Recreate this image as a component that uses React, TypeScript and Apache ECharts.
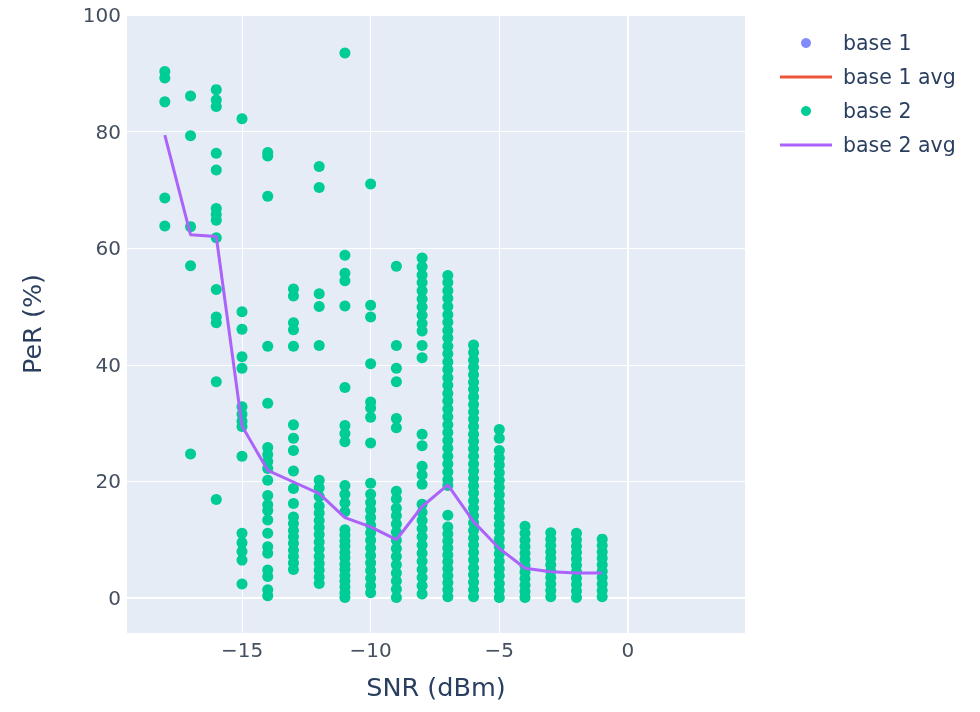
import React, { useEffect, useRef } from "react";
import * as echarts from "echarts";

// SNR columns (dBm)
const snrLevels = [-18, -17, -16, -15, -14, -13, -12, -11, -10, -9, -8, -7, -6, -5, -4, -3, -2, -1];

// base 2 PeR (%) readings per SNR column (same order as snrLevels)
const perSnrM18 = [90.3, 89.2, 85.1, 68.6, 63.8];
const perSnrM17 = [86.1, 79.3, 63.7, 57.0, 24.7];
const perSnrM16 = [87.2, 85.4, 84.3, 76.3, 73.4, 66.8, 65.8, 64.8, 61.8, 52.9, 48.2, 47.2, 37.1, 16.9];
const perSnrM15 = [82.2, 49.1, 46.1, 41.4, 39.4, 32.8, 31.5, 30.3, 29.4, 24.3, 11.1, 9.5, 8.0, 6.5, 2.4];
const perSnrM14 = [76.4, 75.8, 68.9, 43.2, 33.4, 25.8, 24.6, 23.4, 22.2, 20.2, 17.6, 16.0, 15.0, 13.4, 11.1, 8.8, 7.7, 4.8, 3.7, 1.4, 0.4];
const perSnrM13 = [53.0, 51.8, 47.2, 46.0, 43.2, 29.7, 27.4, 25.3, 21.8, 18.8, 16.2, 13.9, 12.8, 11.6, 10.5, 9.4, 8.2, 7.1, 6.0, 4.9];
const perSnrM12 = [74.0, 70.4, 52.2, 50.0, 43.3, 20.2, 18.9, 17.4, 15.8, 14.6, 13.3, 12.1, 10.9, 9.6, 8.4, 7.1, 5.9, 4.8, 3.6, 2.5];
const perSnrM11 = [93.5, 58.8, 55.7, 54.4, 50.1, 36.1, 29.6, 28.2, 26.8, 19.3, 17.8, 16.3, 14.8, 11.7, 10.8, 9.8, 8.9, 7.8, 6.9, 5.8, 4.9, 3.8, 2.9, 1.9, 0.9, 0.1];
const perSnrM10 = [71.0, 50.2, 48.2, 40.2, 33.6, 32.6, 31.0, 26.6, 19.7, 17.8, 16.4, 15.1, 13.8, 12.5, 11.2, 9.9, 8.6, 7.3, 6.0, 4.7, 3.4, 2.1, 0.9];
const perSnrM9 = [56.9, 43.3, 39.4, 37.1, 30.8, 29.2, 18.3, 17.0, 15.4, 14.1, 12.7, 11.3, 9.9, 8.5, 7.1, 5.7, 4.3, 2.9, 1.5, 0.1];
const perSnrM8 = [58.3, 56.8, 55.4, 54.1, 52.7, 51.3, 49.9, 48.5, 47.1, 45.8, 43.3, 41.2, 28.1, 26.1, 22.6, 21.1, 19.5, 16.1, 14.7, 13.3, 11.9, 10.5, 9.1, 7.7, 6.3, 4.9, 3.5, 2.1, 0.7];
const perSnrM7 = [55.3, 54.1, 52.7, 51.4, 50.0, 48.6, 47.3, 45.9, 44.6, 43.2, 41.9, 40.5, 39.2, 37.8, 36.5, 35.1, 33.8, 32.4, 31.1, 29.7, 28.4, 27.0, 25.7, 24.3, 23.0, 21.6, 20.3, 19.3, 14.2, 12.2, 11.0, 9.8, 8.6, 7.4, 6.2, 5.0, 3.8, 2.6, 1.4, 0.2];
const perSnrM6 = [43.4, 42.1, 40.8, 39.6, 38.3, 37.0, 35.8, 34.5, 33.2, 31.9, 30.7, 29.4, 28.1, 26.9, 25.6, 24.3, 23.0, 21.8, 20.5, 19.2, 18.0, 16.7, 15.4, 14.1, 12.9, 11.6, 10.3, 9.1, 7.8, 6.5, 5.2, 4.0, 2.7, 1.4, 0.2];
const perSnrM5 = [28.9, 27.4, 25.3, 24.0, 22.8, 21.5, 20.2, 19.0, 17.7, 16.4, 15.2, 13.9, 12.6, 11.4, 10.1, 8.8, 7.6, 6.3, 5.0, 3.8, 2.5, 1.3, 0.1];
const perSnrM4 = [12.3, 11.1, 9.9, 8.8, 7.7, 6.6, 5.5, 4.4, 3.3, 2.2, 1.1, 0.1];
const perSnrM3 = [11.2, 10.1, 9.0, 7.9, 6.8, 5.7, 4.6, 3.5, 2.4, 1.3, 0.2];
const perSnrM2 = [11.1, 10.0, 8.9, 7.8, 6.7, 5.6, 4.5, 3.4, 2.3, 1.2, 0.1];
const perSnrM1 = [10.1, 9.0, 7.9, 6.8, 5.7, 4.6, 3.5, 2.4, 1.3, 0.2];

const base2Columns = [
  perSnrM18, perSnrM17, perSnrM16, perSnrM15, perSnrM14, perSnrM13, perSnrM12, perSnrM11, perSnrM10,
  perSnrM9, perSnrM8, perSnrM7, perSnrM6, perSnrM5, perSnrM4, perSnrM3, perSnrM2, perSnrM1,
];

// base 2 average PeR (%) per SNR column
const base2AvgPer = [79.4, 62.3, 62.0, 29.5, 21.9, 19.9, 17.9, 13.8, 12.2, 10.0, 15.7, 19.4, 13.1, 8.5, 5.1, 4.5, 4.3, 4.3];

// base 1 has no visible data
const base1Points: number[][] = [];
const base1AvgPoints: number[][] = [];

const xTicks = [-15, -10, -5, 0];
const yTicks = [0, 20, 40, 60, 80, 100];

const LINE_ICON = "path://M0,0L52,0L52,3L0,3Z";

export default function App() {
  const ref = useRef<HTMLDivElement>(null);

  useEffect(() => {
    const chart = echarts.init(ref.current!, null, { renderer: "svg" });
    const base2Points = snrLevels.flatMap((snr, i) => base2Columns[i].map((v) => [snr, v]));
    const base2Avg = snrLevels.map((snr, i) => [snr, base2AvgPer[i]]);
    const font = "'DejaVu Sans', Verdana, sans-serif";
    const textColor = "#2a3f5f";
    const tickColor = "#44505f";
    const minusFmt = (v: number) => (v < 0 ? "\u2212" + Math.abs(v) : String(v));

    chart.setOption({
      animation: false,
      textStyle: { fontFamily: font },
      grid: {
        left: 127,
        right: 235,
        top: 15,
        bottom: 79,
        show: true,
        backgroundColor: "#E5ECF6",
        borderWidth: 0,
        containLabel: false,
        outerBoundsMode: "none",
      },
      legend: {
        orient: "vertical",
        left: 780,
        top: 32,
        padding: 0,
        itemWidth: 52,
        itemHeight: 10,
        itemGap: 12,
        textStyle: { fontSize: 20.5, color: textColor, lineHeight: 22, padding: [0, 0, 0, 6], fontFamily: font },
        data: [
          { name: "base 1", icon: "circle" },
          { name: "base 1 avg", icon: LINE_ICON },
          { name: "base 2", icon: "circle" },
          { name: "base 2 avg", icon: LINE_ICON },
        ],
      },
      xAxis: {
        type: "value",
        min: -19.47,
        max: 4.55,
        name: "SNR (dBm)",
        nameLocation: "middle",
        nameGap: 41,
        nameTextStyle: { fontSize: 25.5, color: textColor, fontFamily: font },
        axisLine: { show: false },
        axisTick: { show: false, customValues: xTicks },
        axisLabel: { customValues: xTicks, formatter: minusFmt, fontSize: 20, color: tickColor, margin: 7, fontFamily: font },
        splitLine: { show: true, lineStyle: { color: "#ffffff", width: 1 } },
      },
      yAxis: {
        type: "value",
        min: -6,
        max: 100,
        name: "PeR (%)",
        nameLocation: "middle",
        nameGap: 82,
        nameTextStyle: { fontSize: 25.5, color: textColor, fontFamily: font },
        axisLine: { show: false },
        axisTick: { show: false, customValues: yTicks },
        axisLabel: { customValues: yTicks, formatter: minusFmt, fontSize: 20, color: tickColor, margin: 6, fontFamily: font },
        splitLine: { show: true, lineStyle: { color: "#ffffff", width: 1 } },
      },
      series: [
        {
          name: "base 1",
          type: "scatter",
          data: base1Points,
          symbolSize: 11,
          itemStyle: { color: "#636EFA" },
          markLine: {
            silent: true,
            z: 1,
            symbol: "none",
            label: { show: false },
            lineStyle: { color: "#ffffff", width: 2, type: "solid" },
            emphasis: { disabled: true },
            data: [{ yAxis: 0 }, { xAxis: 0 }],
          },
        },
        {
          name: "base 1 avg",
          type: "line",
          data: base1AvgPoints,
          symbol: "none",
          lineStyle: { color: "#EF553B", width: 3 },
          itemStyle: { color: "#EF553B" },
        },
        {
          name: "base 2",
          type: "scatter",
          data: base2Points,
          symbolSize: 11,
          itemStyle: { color: "#00CC96", opacity: 1 },
          z: 3,
        },
        {
          name: "base 2 avg",
          type: "line",
          data: base2Avg,
          symbol: "none",
          lineStyle: { color: "#AB63FA", width: 3 },
          itemStyle: { color: "#AB63FA" },
          z: 4,
        },
      ],
    });

    return () => chart.dispose();
  }, []);

  return <div ref={ref} style={{ position: "fixed", left: 0, top: 0, width: 980, height: 712 }} />;
}
